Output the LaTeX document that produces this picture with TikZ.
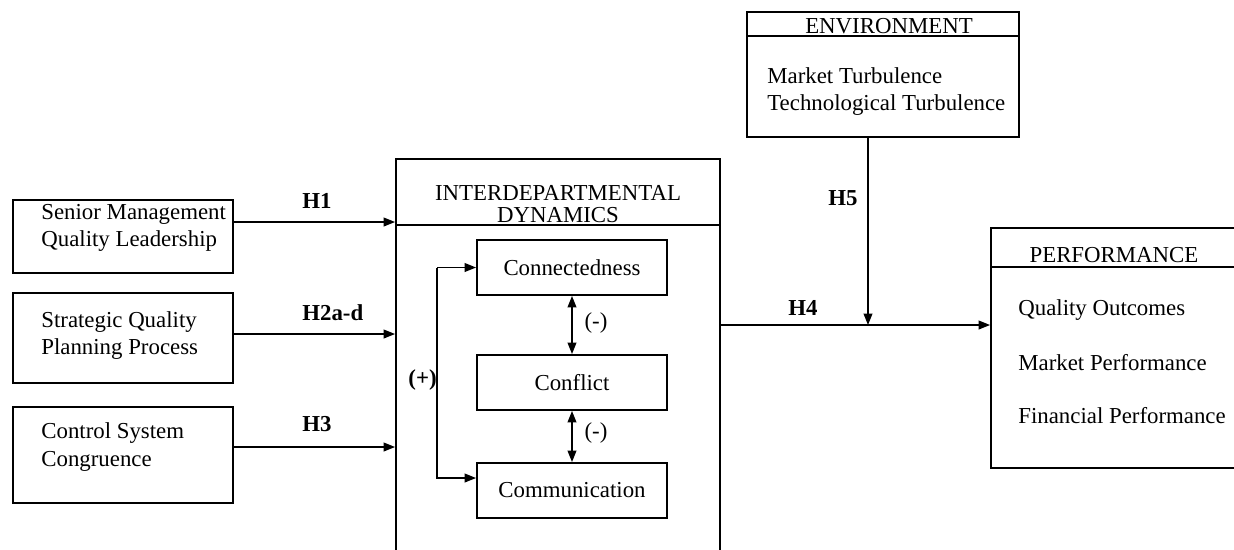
\documentclass[tikz,border=0pt]{standalone}
\usepackage{fontspec}
\setmainfont{Liberation Serif}
\usetikzlibrary{arrows.meta,positioning}
\begin{document}
\begin{tikzpicture}[x=0.02cm,y=-0.02cm,
    every node/.style={font=\fontsize{13}{15.4}\selectfont, inner sep=0pt},
    frame/.style={draw, line width=1.1pt, rectangle},
    arr/.style={line width=0.8pt, -{Triangle[length=6.5pt,width=5pt]}},
    dbl/.style={line width=0.8pt, {Triangle[length=6.5pt,width=5pt]}-{Triangle[length=6.5pt,width=5pt]}},
    hyp/.style={font=\fontsize{13}{15.4}\selectfont\bfseries, anchor=base west}]
  \useasboundingbox (0,0) rectangle (1234,549);
  \clip (0,0) rectangle (1234,549);
  \newcommand{\hx}{302}
  % antecedents
  \node[frame, minimum width=4.4cm, minimum height=1.46cm] (sml) at (123,236.5) {};
  \node[frame, minimum width=4.4cm, minimum height=1.8cm] (sqp) at (123,338) {};
  \node[frame, minimum width=4.4cm, minimum height=1.92cm] (csc) at (123,455) {};
  \node[anchor=west, align=left] (smlt) at (41,228) {Senior Management\\Quality Leadership};
  \node[anchor=west, align=left] (sqpt) at (41,336) {Strategic Quality\\Planning Process};
  \node[anchor=west, align=left] (csct) at (41,447) {Control System\\Congruence};
  % interdepartmental dynamics
  \node[frame, minimum width=6.48cm, minimum height=8.02cm] (dyn) at (558,359.5) {};
  \draw[line width=1.1pt] ([yshift=-1.34cm]dyn.north west) -- ([yshift=-1.34cm]dyn.north east);
  \node[align=center, font=\fontsize{13}{12.5}\selectfont] (dynt) at (558,204) {INTERDEPARTMENTAL\\DYNAMICS};
  \node[frame, minimum width=3.8cm, minimum height=1.1cm] (conn) at (572,267.5) {Connectedness};
  \node[frame, minimum width=3.8cm, minimum height=1.1cm] (conf) at (572,382.5) {Conflict};
  \node[frame, minimum width=3.8cm, minimum height=1.1cm] (comm) at (572,490.5) {Communication};
  \draw[dbl] (conn) -- (conf);
  \draw[dbl] (conf) -- (comm);
  \node at (596,323) {(-)};
  \node at (596,433) {(-)};
  \coordinate (bend) at (437,267.5);
  \draw[arr] (bend) -- (conn);
  \draw[arr] (bend) |- ([yshift=0.25cm]comm.west);
  \node[anchor=east, font=\fontsize{13}{15.4}\selectfont\bfseries] at (437,380) {(+)};
  % environment
  \node[frame, minimum width=5.44cm, minimum height=2.5cm] (env) at (883,74.5) {};
  \draw[line width=1.1pt] ([yshift=-0.5cm]env.north west) -- ([yshift=-0.5cm]env.north east);
  \node[anchor=base] at (889,33) {ENVIRONMENT};
  \node[anchor=west, align=left] (envt) at (767,92) {Market Turbulence\\Technological Turbulence};
  % performance
  \node[frame, minimum width=5.3cm, minimum height=4.8cm] (perf) at (1123.5,348) {};
  \draw[line width=1.1pt] ([yshift=-0.8cm]perf.north west) -- ([yshift=-0.8cm]perf.north east);
  \node[anchor=base] at (1114,262) {PERFORMANCE};
  \node[anchor=base west] (perfq) at (1018,315) {Quality Outcomes};
  \node[anchor=base west] (perfm) at (1018,370) {Market Performance};
  \node[anchor=base west] (perff) at (1018,423) {Financial Performance};
  % hypotheses
  \draw[arr] (sml.east |- 0,222) -- (dyn.west |- 0,222);
  \draw[arr] (sqp.east |- 0,334) -- (dyn.west |- 0,334);
  \draw[arr] (csc.east |- csct) -- (dyn.west |- csct);
  \node[hyp] at (\hx,208) {H1};
  \node[hyp] at (\hx,320) {H2a-d};
  \node[hyp] at (\hx,431) {H3};
  \coordinate (join) at (868,325);
  \draw[arr] (env.south -| join) -- (join);
  \draw[arr] (dyn.east |- join) -- (perf.west |- join);
  \node[hyp] at (788,315) {H4};
  \node[hyp] at (828,205) {H5};
\end{tikzpicture}
\end{document}
